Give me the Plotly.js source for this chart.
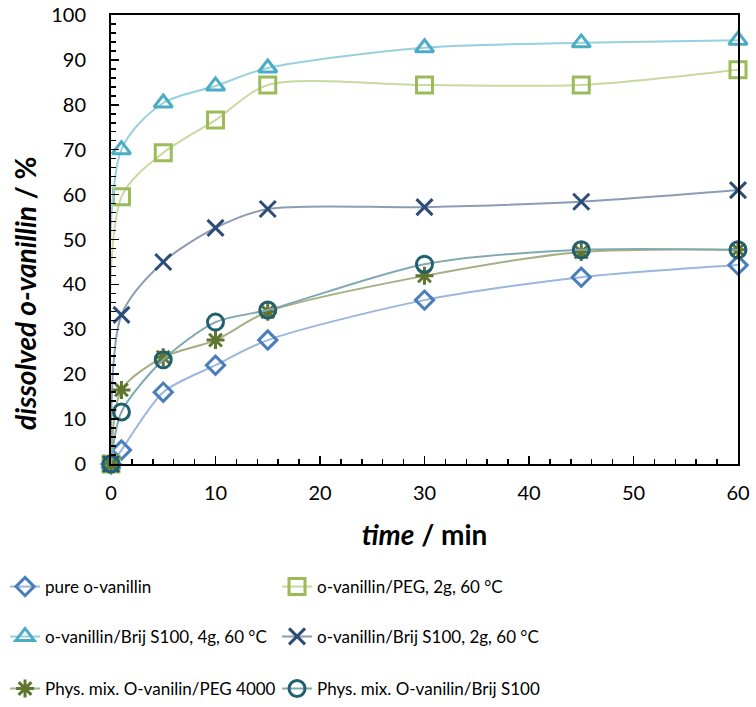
<!DOCTYPE html>
<html>
<head>
<meta charset="utf-8">
<script src="https://cdn.plot.ly/plotly-3.0.1.min.js"></script>
<style>html,body{margin:0;padding:0;background:#fff;}#chart{width:756px;height:707px;}</style>
</head>
<body>
<div id="chart"></div>
<script>
const time = [0, 1, 5, 10, 15, 30, 45, 60];
const pureVanillin = [0, 3.1, 16.0, 22.0, 27.6, 36.5, 41.6, 44.3];
const peg2g = [0, 59.5, 69.3, 76.6, 84.4, 84.4, 84.4, 87.8];
const brij4g = [0, 70.0, 80.4, 84.2, 88.2, 92.7, 93.8, 94.4];
const brij2g = [0, 33.2, 45.0, 52.6, 56.8, 57.2, 58.4, 61.0];
const physPeg = [0, 16.5, 23.8, 27.6, 33.9, 41.9, 47.2, 47.7];
const physBrij = [0, 11.6, 23.2, 31.6, 34.3, 44.5, 47.7, 47.7];
const names = [
  'pure o-vanillin',
  'o-vanillin/PEG, 2g, 60 °C',
  'o-vanillin/Brij S100, 4g, 60 °C',
  'o-vanillin/Brij S100, 2g, 60 °C',
  'Phys. mix. O-vanilin/PEG 4000',
  'Phys. mix. O-vanilin/Brij S100'
];

const series = [pureVanillin, peg2g, brij4g, brij2g, physPeg, physBrij];
const markerColors = ['#4a7ebb', '#9bbb59', '#4bacc6', '#2c4d75', '#5f7530', '#23606e'];
const lineColors = ['#9bb7dd', '#c8da9f', '#98d0df', '#8b9cb6', '#a3b083', '#7fa8b1'];
const symbols = ['diamond-open', 'square-open', 'triangle-up-open', 'x-thin-open', 'asterisk-open', 'circle-open'];
const sizes = [14, 16, 16, 16, 15, 16];
const legendIds = ['legend', 'legend', 'legend2', 'legend2', 'legend3', 'legend3'];

const traces = series.map((ys, i) => ({
  x: time, y: ys, name: names[i], type: 'scatter', mode: 'lines+markers',
  legend: legendIds[i],
  line: {shape: 'spline', smoothing: 0.8, color: lineColors[i], width: 2},
  marker: {symbol: symbols[i], size: sizes[i], color: markerColors[i], line: {width: 3, color: markerColors[i]}},
  cliponaxis: false
}));

const fontFam = 'Lato, "Open Sans", sans-serif';
function legendRow(yPaper) {
  return {
    orientation: 'h', x: -0.169, xanchor: 'left', y: yPaper, yanchor: 'middle',
    entrywidth: 227, entrywidthmode: 'pixels',
    font: {size: 17, family: fontFam, color: '#000'}, itemwidth: 30,
    bgcolor: 'rgba(0,0,0,0)'
  };
}
const layout = {
  width: 756, height: 707,
  margin: {l: 111, r: 18, t: 15, b: 243, autoexpand: false},
  paper_bgcolor: '#fff', plot_bgcolor: '#fff',
  font: {family: fontFam, color: '#000', size: 18},
  showlegend: true,
  xaxis: {
    range: [0, 60], dtick: 10, tick0: 0, automargin: false,
    showgrid: false, zeroline: false,
    showline: true, linecolor: '#000', linewidth: 2, mirror: true,
    ticks: 'inside', ticklen: 8, tickwidth: 1.5, tickcolor: '#000',
    minor: {dtick: 2, ticks: 'inside', ticklen: 5, tickwidth: 1.5, tickcolor: '#000'},
    tickfont: {size: 20, family: fontFam}, ticklabelstandoff: 10,
    title: {text: '<b><i>time</i> / min</b>', font: {size: 28, family: fontFam}, standoff: 22}
  },
  yaxis: {
    range: [0, 100], dtick: 10, tick0: 0, automargin: false,
    showgrid: false, zeroline: false,
    showline: true, linecolor: '#000', linewidth: 2, mirror: true,
    ticks: 'inside', ticklen: 8, tickwidth: 1.5, tickcolor: '#000',
    minor: {dtick: 2, ticks: 'inside', ticklen: 5, tickwidth: 1.5, tickcolor: '#000'},
    tickfont: {size: 20, family: fontFam}, ticklabelstandoff: 19
  },
  annotations: [{
    text: '<b><i>dissolved o-vanillin</i> / %</b>',
    xref: 'paper', yref: 'paper', x: -0.137, y: 0.379,
    xanchor: 'center', yanchor: 'middle', textangle: -90, showarrow: false,
    font: {size: 28, family: fontFam, color: '#000'}
  }],
  legend: legendRow(-0.274),
  legend2: legendRow(-0.385),
  legend3: legendRow(-0.501)
};

Plotly.newPlot('chart', traces, layout, {displayModeBar: false, staticPlot: true});
</script>
</body>
</html>
